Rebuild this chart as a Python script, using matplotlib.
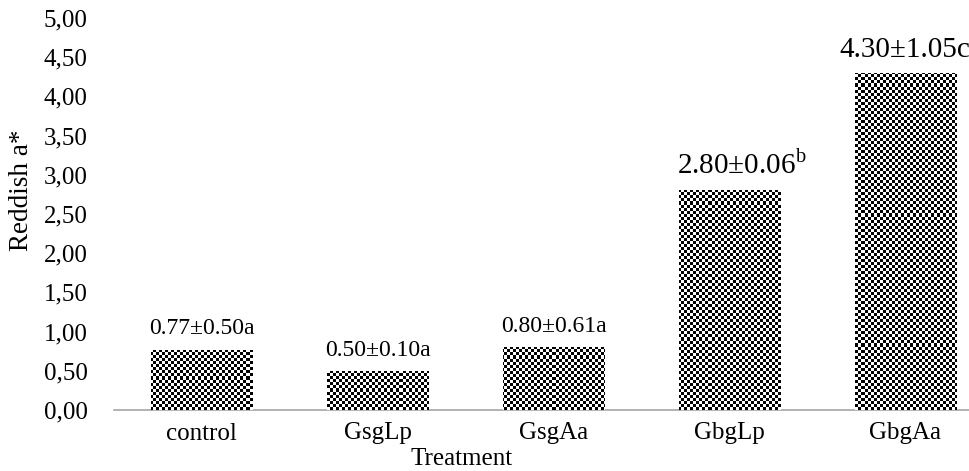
#!/usr/bin/env python3
# -*- coding: utf-8 -*-

"""Reddish a* value per treatment, bars filled with a checker pattern"""

import numpy as np
import matplotlib
matplotlib.use('Agg')
import matplotlib.pyplot as plt
from matplotlib.ticker import FuncFormatter

treatments = ['control', 'GsgLp', 'GsgAa', 'GbgLp', 'GbgAa']
reddish = [0.77, 0.50, 0.80, 2.80, 4.30]
errors = ['0.50', '0.10', '0.61', '0.06', '1.05']
groups = ['a', 'a', 'a', r'$^{\mathrm{b}}$', 'c']
label_sizes = [17, 17, 17, 21, 21]
label_shift = [0, 0, 0, 0.07, 0]

plt.rcParams['font.family'] = ['Liberation Serif', 'DejaVu Serif']
plt.rcParams['mathtext.fontset'] = 'custom'
plt.rcParams['mathtext.rm'] = 'Liberation Serif'

W, H = 969, 471
fig = plt.figure(figsize=(W / 100, H / 100), dpi=100)
# plot area runs past the right edge of the canvas
ax = fig.add_axes([114 / W, 61 / H, 879 / W, 392 / H])

ind = np.arange(len(treatments))
bars = ax.bar(ind, reddish, width=0.575, color='white', edgecolor='none', zorder=2)

ax.set_xlim(-0.5, len(treatments) - 0.5)
ax.set_ylim(0, 5)

# checker fill, 3 px squares, clipped to each bar
cell = 3
nx, ny = int(879 / cell), int(392 / cell)
checker = (np.add.outer(np.arange(ny), np.arange(nx)) % 2).astype(float)
for b in bars:
    im = ax.imshow(checker, cmap='gray', vmin=0, vmax=1, interpolation='nearest',
                   extent=(-0.5, len(treatments) - 0.5, 0, 5), aspect='auto',
                   origin='lower', zorder=3)
    im.set_clip_path(b)

for i, v in enumerate(reddish):
    ax.text(i + label_shift[i], v + 0.13, '%.2f±%s%s' % (v, errors[i], groups[i]),
            ha='center', va='bottom', fontsize=label_sizes[i], clip_on=False)

ax.set_yticks(np.arange(0, 5.01, 0.5))
ax.yaxis.set_major_formatter(FuncFormatter(lambda y, _: ('%.2f' % y).replace('.', ',')))
ax.set_xticks(ind, treatments)
ax.tick_params(axis='both', length=0, labelsize=18)
ax.tick_params(axis='x', pad=9)
ax.tick_params(axis='y', pad=19)

for side in ('top', 'right', 'left'):
    ax.spines[side].set_visible(False)
ax.spines['bottom'].set_color('#a6a6a6')
ax.spines['bottom'].set_linewidth(1.2)

ax.set_ylabel('Reddish a*', fontsize=19.5)
ax.yaxis.set_label_coords(-80 / 879, (410 - 190) / 392)
fig.text(462 / W, 1 - 459 / H, 'Treatment', fontsize=18, ha='center', va='center')

fig.savefig('out.png', dpi=100)
